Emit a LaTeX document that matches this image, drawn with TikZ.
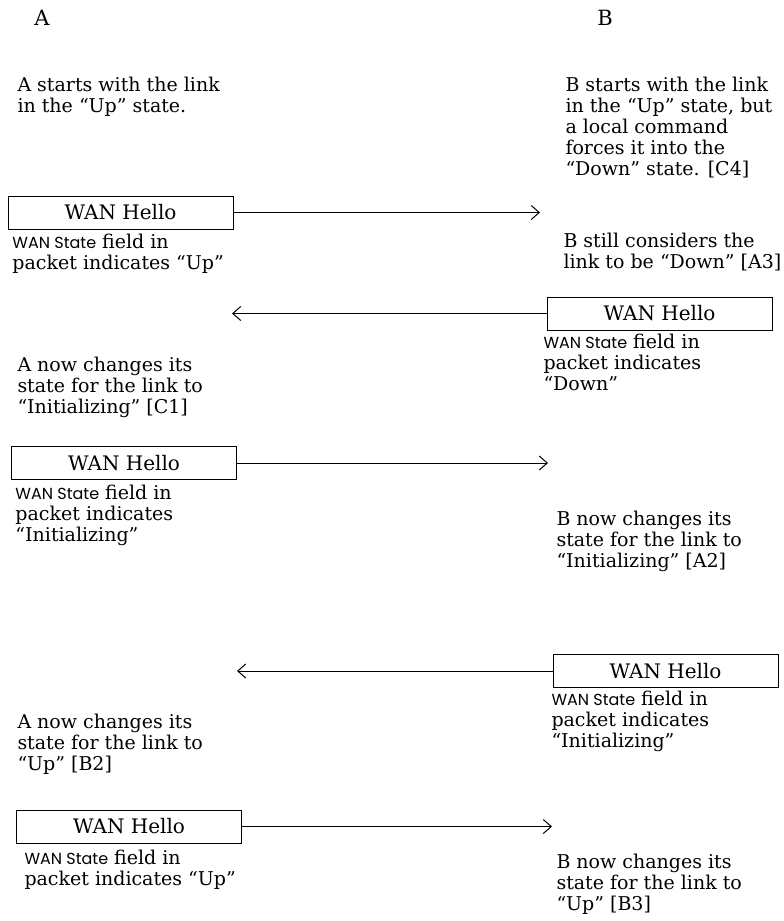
\documentclass[tikz,border=0pt]{standalone}
\usepackage{fontspec}
\setmainfont{DejaVu Serif}
\newfontfamily\gothfont{Poppins}
\usetikzlibrary{arrows.meta}
\newcommand{\wanst}{{\gothfont\fontsize{16}{21}\selectfont WAN State}}
\tikzset{
  note/.style={anchor=north west, align=left, inner sep=0pt, font=\fontsize{19}{21}\selectfont},
  hello/.style={draw, minimum width=225pt, minimum height=33pt, inner sep=0pt, font=\fontsize{20}{24}\selectfont},
  side/.style={inner sep=0pt, font=\fontsize{21}{24}\selectfont}
}
\begin{document}
\begin{tikzpicture}[x=1pt, y=-1pt, >={Straight Barb[length=8pt,width=14pt]}, line width=1pt]
\useasboundingbox (0,0) rectangle (784,921);

% Sides
\node[side] (sideA) at (42,18) {A};
\node[side] (sideB) at (605,18) {B};

% Step 1: A -> B
\node[note] (a1) at (17,77) {A starts with the link\\in the ``Up'' state.};
\node[note] (b1) at (565,77) {B starts with the link\\in the ``Up'' state, but\\a local command\\forces it into the\\``Down'' state. [C4]};
\node[hello] (h1) at (120.5,212.5) {WAN Hello};
\node[note] (p1) at (12,234) {\wanst{} field in\\packet indicates ``Up''};
\coordinate (t1) at (540,212.5);
\draw[->] (h1.east) -- (t1);
\node[note] (b2) at (563,233) {B still considers the\\link to be ``Down'' [A3]};

% Step 2: B -> A
\node[hello] (h2) at (659.5,313.5) {WAN Hello};
\coordinate (t2) at (232,313.5);
\draw[->] (h2.west) -- (t2);
\node[note] (p2) at (543,334) {\wanst{} field in\\packet indicates\\``Down''};
\node[note] (a2) at (17,357) {A now changes its\\state for the link to\\``Initializing'' [C1]};

% Step 3: A -> B
\node[hello] (h3) at (124,463) {WAN Hello};
\coordinate (t3) at (548,463);
\draw[->] (h3.east) -- (t3);
\node[note] (p3) at (15,485) {\wanst{} field in\\packet indicates\\``Initializing''};
\node[note] (b3) at (556,511) {B now changes its\\state for the link to\\``Initializing'' [A2]};

% Step 4: B -> A
\node[hello] (h4) at (665.5,671) {WAN Hello};
\coordinate (t4) at (237,671);
\draw[->] (h4.west) -- (t4);
\node[note] (p4) at (551,691) {\wanst{} field in\\packet indicates\\``Initializing''};
\node[note] (a4) at (17,714) {A now changes its\\state for the link to\\``Up'' [B2]};

% Step 5: A -> B
\node[hello] (h5) at (129,826.5) {WAN Hello};
\coordinate (t5) at (552,826.5);
\draw[->] (h5.east) -- (t5);
\node[note] (p5) at (24,850) {\wanst{} field in\\packet indicates ``Up''};
\node[note] (b5) at (556,854) {B now changes its\\state for the link to\\``Up'' [B3]};

\end{tikzpicture}
\end{document}
